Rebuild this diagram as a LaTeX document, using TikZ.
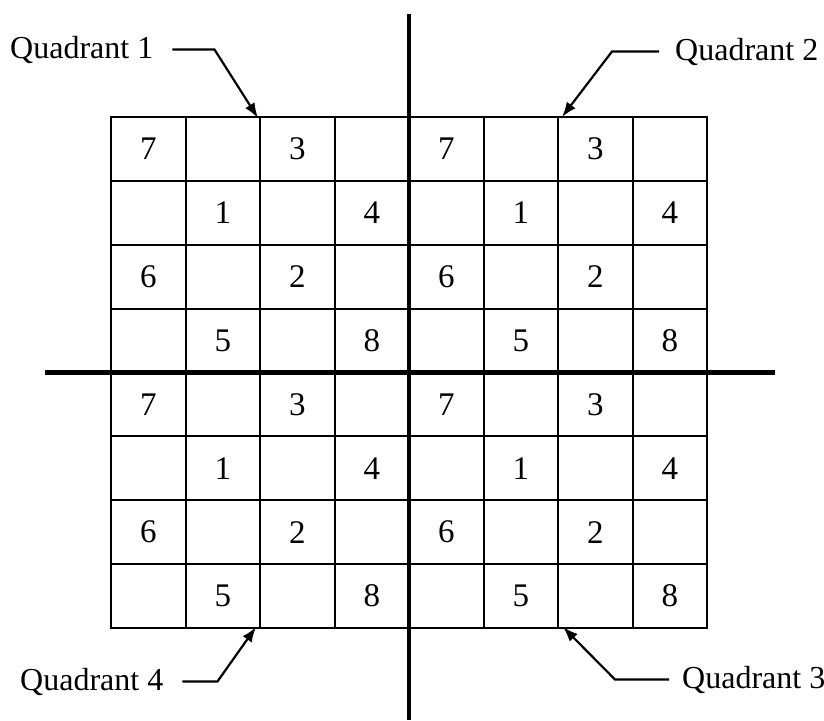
\documentclass[tikz,border=0pt]{standalone}
\usepackage{fontspec}
\setmainfont{Liberation Serif}
\usetikzlibrary{positioning,arrows.meta}
\tikzset{
    cellbox/.style={
        draw, line width=2pt, inner sep=0pt,
        minimum width=74.5pt, minimum height=63.9pt,
        font=\fontsize{33}{38}\selectfont
    },
    axisline/.style={line width=4.4pt},
    quadlabel/.style={font=\fontsize{32}{38}\selectfont, inner sep=0pt, anchor=base west},
    leader/.style={line width=2.2pt, -{Latex[length=15pt,width=11pt]}},
}

\begin{document}
\begin{tikzpicture}[x=1pt, y=-1pt]
    \useasboundingbox (0,0) rectangle (824,720);
    % 8x8 grid, same 4x4 pattern in every quadrant
    \foreach \r in {0,...,7} {
        \foreach \c in {0,...,7} {
            \pgfmathtruncatemacro\digit{{7,0,3,0,0,1,0,4,6,0,2,0,0,5,0,8}[mod(\r,4)*4+mod(\c,4)]}
            \node[cellbox] (c-\r-\c) at ({111+74.5*(\c+0.5)}, {117+63.875*(\r+0.5)})
                {\ifnum\digit>0 \digit\fi};
        }
    }
    % axes
    \coordinate (vtop) at (409,14);
    \coordinate (vbot) at (409,720);
    \coordinate (hleft) at (45,372.5);
    \coordinate (hright) at (775,372.5);
    \draw[axisline] (vtop) -- (vbot);
    \draw[axisline] (hleft) -- (hright);
    % quadrant labels
    \node[quadlabel] (q1) at (10,58) {Quadrant 1};
    \node[quadlabel] (q2) at (675,60) {Quadrant 2};
    \node[quadlabel] (q4) at (20,690) {Quadrant 4};
    \node[quadlabel] (q3) at (682,688) {Quadrant 3};
    \draw[leader] ([xshift=19pt]q1.east) -- ++(42,0) -- ([shift={(-1pt,-2pt)}]c-0-2.north west);
    \draw[leader] ([xshift=-16pt]q2.west) -- ++(-47,0) -- ([shift={(5pt,-1pt)}]c-0-6.north west);
    \draw[leader] ([xshift=19pt]q4.east) -- ++(35,0) -- ([shift={(-3pt,2pt)}]c-7-2.south west);
    \draw[leader] ([xshift=-13pt]q3.west) -- ++(-54,0) -- ([shift={(6pt,2pt)}]c-7-6.south west);
\end{tikzpicture}
\end{document}
